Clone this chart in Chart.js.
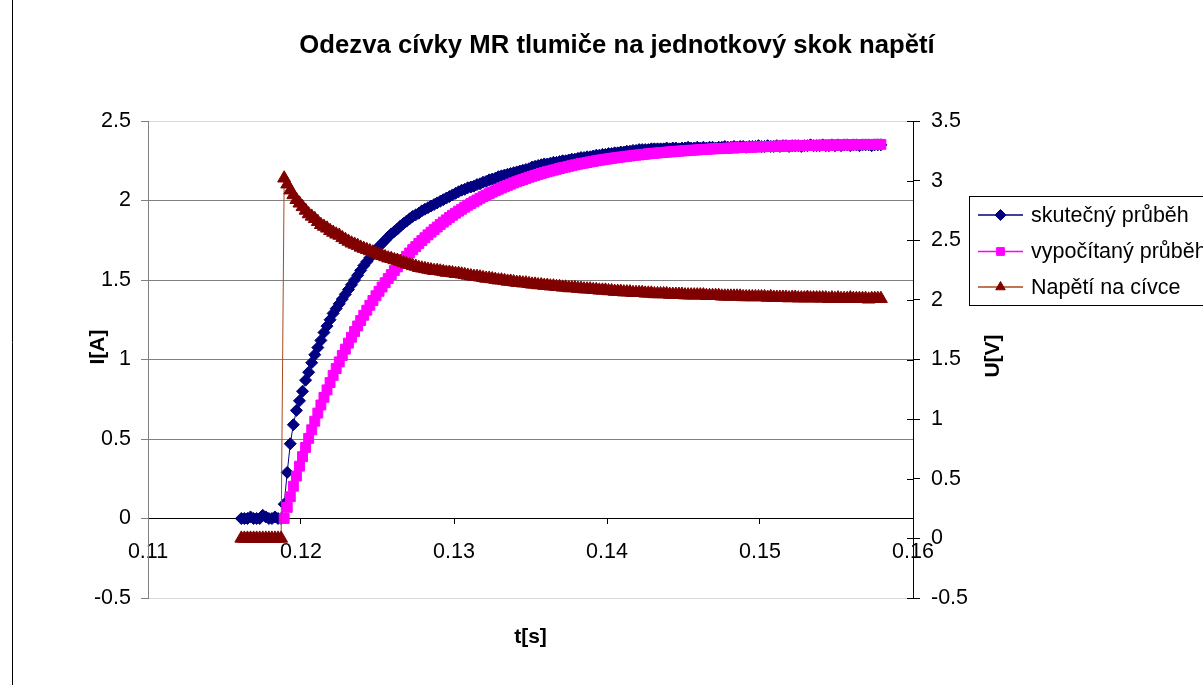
<!DOCTYPE html>
<html lang="cs">
<head>
<meta charset="utf-8">
<title>Odezva cívky MR tlumiče</title>
<script src="https://cdn.jsdelivr.net/npm/chart.js@4.4.1/dist/chart.umd.min.js"></script>
<style>
  html, body { margin: 0; padding: 0; background: #fff; }
  #wrap { position: relative; width: 1203px; height: 685px; overflow: hidden; }
</style>
</head>
<body>
<div id="wrap"><canvas id="chart" width="1203" height="685"></canvas></div>
<script>
// texty grafu
const titleText = 'Odezva cívky MR tlumiče na jednotkový skok napětí';
const xTitle = 't[s]';
const yTitle = 'I[A]';
const y2Title = 'U[V]';
const seriesNames = ['skutečný průběh', 'vypočítaný průběh', 'Napětí na cívce'];

// popisky os
const timeTicks = [0.11, 0.12, 0.13, 0.14, 0.15, 0.16];
const currentTicks = [-0.5, 0, 0.5, 1, 1.5, 2, 2.5];
const voltageTicks = [-0.5, 0, 0.5, 1, 1.5, 2, 2.5, 3, 3.5];

// časy vzorků [s]
const time = [
  0.1161, 0.1163, 0.1165, 0.1167, 0.1169, 0.1171, 0.1173, 0.1175, 0.1177, 0.1179,
  0.1181, 0.1183, 0.1185, 0.1187, 0.1189, 0.1191, 0.1193, 0.1195, 0.1197, 0.1199,
  0.1201, 0.1203, 0.1205, 0.1207, 0.1209, 0.1211, 0.1213, 0.1215, 0.1217, 0.1219,
  0.1221, 0.1223, 0.1225, 0.1227, 0.1229, 0.1231, 0.1233, 0.1235, 0.1237, 0.1239,
  0.1241, 0.1243, 0.1245, 0.1247, 0.1249, 0.1251, 0.1253, 0.1255, 0.1257, 0.1259,
  0.1261, 0.1263, 0.1265, 0.1267, 0.1269, 0.1271, 0.1273, 0.1275, 0.1277, 0.1279,
  0.1281, 0.1283, 0.1285, 0.1287, 0.1289, 0.1291, 0.1293, 0.1295, 0.1297, 0.1299,
  0.1301, 0.1303, 0.1305, 0.1307, 0.1309, 0.1311, 0.1313, 0.1315, 0.1317, 0.1319,
  0.1321, 0.1323, 0.1325, 0.1327, 0.1329, 0.1331, 0.1333, 0.1335, 0.1337, 0.1339,
  0.1341, 0.1343, 0.1345, 0.1347, 0.1349, 0.1351, 0.1353, 0.1355, 0.1357, 0.1359,
  0.1361, 0.1363, 0.1365, 0.1367, 0.1369, 0.1371, 0.1373, 0.1375, 0.1377, 0.1379,
  0.1381, 0.1383, 0.1385, 0.1387, 0.1389, 0.1391, 0.1393, 0.1395, 0.1397, 0.1399,
  0.1401, 0.1403, 0.1405, 0.1407, 0.1409, 0.1411, 0.1413, 0.1415, 0.1417, 0.1419,
  0.1421, 0.1423, 0.1425, 0.1427, 0.1429, 0.1431, 0.1433, 0.1435, 0.1437, 0.1439,
  0.1441, 0.1443, 0.1445, 0.1447, 0.1449, 0.1451, 0.1453, 0.1455, 0.1457, 0.1459,
  0.1461, 0.1463, 0.1465, 0.1467, 0.1469, 0.1471, 0.1473, 0.1475, 0.1477, 0.1479,
  0.1481, 0.1483, 0.1485, 0.1487, 0.1489, 0.1491, 0.1493, 0.1495, 0.1497, 0.1499,
  0.1501, 0.1503, 0.1505, 0.1507, 0.1509, 0.1511, 0.1513, 0.1515, 0.1517, 0.1519,
  0.1521, 0.1523, 0.1525, 0.1527, 0.1529, 0.1531, 0.1533, 0.1535, 0.1537, 0.1539,
  0.1541, 0.1543, 0.1545, 0.1547, 0.1549, 0.1551, 0.1553, 0.1555, 0.1557, 0.1559,
  0.1561, 0.1563, 0.1565, 0.1567, 0.1569, 0.1571, 0.1573, 0.1575, 0.1577, 0.1579
];

// skutečný průběh proudu [A]
const measuredCurrent = [
  0, 0, 0, 0.01, 0, 0, 0, 0.02, 0.01, 0,
  0, 0.01, 0, 0, 0.09, 0.29, 0.47, 0.59, 0.68, 0.74,
  0.80, 0.87, 0.92, 0.98, 1.03, 1.075, 1.12, 1.17, 1.21, 1.25,
  1.29, 1.32, 1.35, 1.38, 1.41, 1.44, 1.47, 1.50, 1.53, 1.56,
  1.59, 1.615, 1.64, 1.665, 1.69, 1.71, 1.73, 1.75, 1.77, 1.79,
  1.805, 1.82, 1.84, 1.855, 1.87, 1.885, 1.90, 1.91, 1.92, 1.935,
  1.945, 1.955, 1.965, 1.975, 1.985, 1.995, 2.005, 2.015, 2.025, 2.035,
  2.045, 2.055, 2.065, 2.07, 2.08, 2.085, 2.09, 2.10, 2.105, 2.115,
  2.12, 2.13, 2.135, 2.14, 2.15, 2.155, 2.16, 2.165, 2.17, 2.175,
  2.18, 2.185, 2.19, 2.195, 2.20, 2.21, 2.215, 2.22, 2.225, 2.23,
  2.23, 2.235, 2.24, 2.24, 2.245, 2.25, 2.25, 2.255, 2.26, 2.26,
  2.265, 2.27, 2.27, 2.275, 2.275, 2.28, 2.285, 2.285, 2.29, 2.29,
  2.295, 2.295, 2.30, 2.30, 2.305, 2.305, 2.31, 2.31, 2.315, 2.315,
  2.32, 2.32, 2.32, 2.32, 2.325, 2.325, 2.325, 2.325, 2.325, 2.33,
  2.325, 2.33, 2.33, 2.325, 2.33, 2.33, 2.335, 2.33, 2.33, 2.335,
  2.33, 2.335, 2.33, 2.335, 2.335, 2.33, 2.335, 2.335, 2.34, 2.335,
  2.335, 2.34, 2.335, 2.34, 2.34, 2.335, 2.34, 2.34, 2.34, 2.345,
  2.34, 2.34, 2.345, 2.34, 2.34, 2.345, 2.34, 2.345, 2.345, 2.34,
  2.345, 2.345, 2.345, 2.34, 2.345, 2.345, 2.35, 2.345, 2.345, 2.345,
  2.35, 2.345, 2.345, 2.35, 2.345, 2.35, 2.345, 2.35, 2.35, 2.345,
  2.35, 2.35, 2.345, 2.35, 2.35, 2.35, 2.345, 2.35, 2.35, 2.35
];

// vypočítaný průběh proudu [A] (začíná až se skokem)
const computedCurrent = [
  null, null, null, null, null, null, null, null, null, null,
  null, null, null, null, 0, 0.070, 0.137, 0.203, 0.267, 0.329,
  0.389, 0.447, 0.504, 0.558, 0.612, 0.663, 0.714, 0.762, 0.809, 0.855,
  0.900, 0.943, 0.985, 1.025, 1.065, 1.103, 1.140, 1.176, 1.211, 1.245,
  1.278, 1.310, 1.341, 1.371, 1.401, 1.429, 1.456, 1.483, 1.509, 1.534,
  1.559, 1.582, 1.605, 1.628, 1.649, 1.670, 1.691, 1.710, 1.730, 1.748,
  1.766, 1.784, 1.801, 1.817, 1.833, 1.849, 1.864, 1.878, 1.893, 1.907,
  1.920, 1.933, 1.945, 1.958, 1.970, 1.981, 1.992, 2.003, 2.014, 2.024,
  2.034, 2.043, 2.053, 2.062, 2.071, 2.079, 2.087, 2.095, 2.103, 2.111,
  2.118, 2.125, 2.132, 2.139, 2.146, 2.152, 2.158, 2.164, 2.170, 2.176,
  2.181, 2.186, 2.191, 2.196, 2.201, 2.206, 2.210, 2.215, 2.219, 2.224,
  2.228, 2.232, 2.235, 2.239, 2.243, 2.246, 2.250, 2.253, 2.256, 2.259,
  2.262, 2.265, 2.268, 2.270, 2.273, 2.275, 2.278, 2.280, 2.283, 2.285,
  2.287, 2.289, 2.291, 2.294, 2.296, 2.297, 2.299, 2.301, 2.302, 2.304,
  2.306, 2.307, 2.309, 2.310, 2.312, 2.313, 2.314, 2.316, 2.317, 2.318,
  2.320, 2.321, 2.322, 2.323, 2.325, 2.326, 2.326, 2.327, 2.328, 2.329,
  2.330, 2.331, 2.332, 2.333, 2.334, 2.335, 2.335, 2.336, 2.337, 2.337,
  2.338, 2.339, 2.339, 2.340, 2.341, 2.341, 2.342, 2.342, 2.343, 2.343,
  2.344, 2.344, 2.345, 2.345, 2.346, 2.346, 2.346, 2.347, 2.347, 2.347,
  2.348, 2.348, 2.348, 2.349, 2.349, 2.349, 2.350, 2.350, 2.350, 2.350,
  2.351, 2.351, 2.351, 2.352, 2.352, 2.352, 2.352, 2.353, 2.353, 2.353
];

// napětí na cívce [V]
const coilVoltage = [
  0, 0, 0, 0, 0, 0, 0, 0, 0, 0,
  0, 0, 0, 0, 3.02, 2.97, 2.92, 2.88, 2.84, 2.81,
  2.78, 2.75, 2.72, 2.70, 2.68, 2.655, 2.63, 2.615, 2.60, 2.58,
  2.565, 2.55, 2.54, 2.52, 2.505, 2.49, 2.475, 2.465, 2.455, 2.44,
  2.43, 2.42, 2.41, 2.40, 2.39, 2.38, 2.37, 2.36, 2.35, 2.345,
  2.335, 2.33, 2.32, 2.31, 2.30, 2.295, 2.285, 2.28, 2.27, 2.265,
  2.26, 2.255, 2.25, 2.245, 2.245, 2.24, 2.235, 2.23, 2.23, 2.225,
  2.22, 2.22, 2.215, 2.21, 2.205, 2.20, 2.195, 2.195, 2.19, 2.185,
  2.18, 2.18, 2.175, 2.17, 2.165, 2.165, 2.16, 2.155, 2.155, 2.15,
  2.145, 2.145, 2.14, 2.14, 2.135, 2.13, 2.13, 2.125, 2.125, 2.12,
  2.12, 2.115, 2.115, 2.11, 2.11, 2.105, 2.105, 2.10, 2.10, 2.10,
  2.095, 2.095, 2.09, 2.09, 2.09, 2.085, 2.085, 2.08, 2.08, 2.08,
  2.075, 2.075, 2.07, 2.07, 2.07, 2.065, 2.065, 2.065, 2.06, 2.06,
  2.06, 2.06, 2.055, 2.055, 2.055, 2.05, 2.05, 2.05, 2.05, 2.05,
  2.045, 2.045, 2.045, 2.045, 2.045, 2.04, 2.04, 2.04, 2.04, 2.04,
  2.04, 2.04, 2.035, 2.035, 2.035, 2.035, 2.035, 2.03, 2.03, 2.03,
  2.03, 2.03, 2.03, 2.03, 2.025, 2.025, 2.025, 2.025, 2.025, 2.025,
  2.025, 2.025, 2.02, 2.025, 2.02, 2.02, 2.02, 2.02, 2.02, 2.015,
  2.02, 2.02, 2.015, 2.015, 2.015, 2.02, 2.015, 2.015, 2.015, 2.015,
  2.015, 2.015, 2.01, 2.015, 2.01, 2.015, 2.01, 2.01, 2.01, 2.015,
  2.01, 2.01, 2.01, 2.01, 2.01, 2.005, 2.01, 2.01, 2.01, 2.01
];

const FONT = '"Liberation Sans", Arial, sans-serif';
Chart.defaults.font.family = FONT;
Chart.defaults.color = '#000';

function points(values) {
  return time.map((t, i) => ({ x: t, y: values[i] })).filter(p => p.y !== null);
}

// vzhled řad (Excel 2003 styl)
const seriesStyle = [
  { line: '#000080', marker: '#000080', pointStyle: 'rectRot', radius: 6 },
  { line: '#ff00ff', marker: '#ff00ff', pointStyle: 'rect', radius: 7 },
  { line: '#a8491c', marker: '#800000', pointStyle: 'triangle', radius: 7.5 }
];

function dataset(i, values, axis) {
  const s = seriesStyle[i];
  return {
    label: seriesNames[i],
    data: points(values),
    yAxisID: axis,
    showLine: true,
    borderColor: s.line,
    backgroundColor: s.marker,
    borderWidth: 1,
    pointStyle: s.pointStyle,
    pointRadius: s.radius,
    pointBorderWidth: 1,
    pointBackgroundColor: s.marker,
    pointBorderColor: s.marker,
    order: 3 - i  // poslední řada se kreslí navrch
  };
}

// titulek, popisy os, legenda a rámeček
const framePlugin = {
  id: 'frame',
  afterDraw(chart) {
    const ctx = chart.ctx;
    const area = chart.chartArea;
    const y2 = chart.scales.y2;
    ctx.save();

    ctx.strokeStyle = '#000';
    ctx.lineWidth = 1;
    ctx.beginPath();
    ctx.moveTo(12.5, 0);
    ctx.lineTo(12.5, 685);
    ctx.stroke();

    // vnitřní část značek pravé osy (křížové značky)
    ctx.beginPath();
    y2.ticks.forEach(t => {
      const py = Math.round(y2.getPixelForValue(t.value)) + 0.5;
      ctx.moveTo(area.right - 6, py);
      ctx.lineTo(area.right, py);
    });
    ctx.stroke();

    ctx.fillStyle = '#000';
    ctx.textAlign = 'center';
    ctx.textBaseline = 'middle';
    ctx.font = 'bold 25.7px ' + FONT;
    ctx.fillText(titleText, 617, 46);

    ctx.font = 'bold 21px ' + FONT;
    ctx.fillText(xTitle, (area.left + area.right) / 2, 637);
    ctx.save();
    ctx.translate(98, 347);
    ctx.rotate(-Math.PI / 2);
    ctx.fillText(yTitle, 0, 0);
    ctx.restore();
    ctx.save();
    ctx.translate(993, 356);
    ctx.rotate(-Math.PI / 2);
    ctx.fillText(y2Title, 0, 0);
    ctx.restore();

    // legenda
    ctx.strokeStyle = '#000';
    ctx.strokeRect(969.5, 196.5, 260, 109);
    const rows = [215, 251.5, 287];
    ctx.font = '21.5px ' + FONT;
    ctx.textAlign = 'left';
    seriesStyle.forEach((s, i) => {
      const y = rows[i];
      ctx.strokeStyle = s.line;
      ctx.lineWidth = 1.5;
      ctx.beginPath();
      ctx.moveTo(978, y);
      ctx.lineTo(1023, y);
      ctx.stroke();
      ctx.fillStyle = s.marker;
      ctx.strokeStyle = s.marker;
      ctx.lineWidth = 1;
      Chart.helpers.drawPoint(ctx, { pointStyle: s.pointStyle, radius: 5.5, rotation: 0, borderWidth: 1 }, 1000.5, y);
      ctx.fillStyle = '#000';
      ctx.fillText(seriesNames[i], 1031, y + 1);
    });
    ctx.restore();
  }
};

const tickFont = { size: 21.5, family: FONT };

new Chart(document.getElementById('chart').getContext('2d'), {
  type: 'scatter',
  data: {
    datasets: [
      dataset(0, measuredCurrent, 'y'),
      dataset(1, computedCurrent, 'y'),
      dataset(2, coilVoltage, 'y2')
    ]
  },
  options: {
    responsive: false,
    devicePixelRatio: 1,
    animation: false,
    events: [],
    layout: { padding: { top: 121, bottom: 87, left: 0, right: 0 } },
    scales: {
      x: {
        type: 'linear',
        position: { y: 0 },
        min: 0.11,
        max: 0.16,
        afterBuildTicks: s => { s.ticks = timeTicks.map(v => ({ value: v })); },
        grid: { drawOnChartArea: false, tickLength: 5, color: '#000' },
        border: { color: '#000' },
        ticks: { font: tickFont, color: '#000', padding: 16, maxRotation: 0, autoSkip: false, callback: v => String(v) }
      },
      y: {
        position: 'left',
        min: -0.5,
        max: 2.5,
        afterBuildTicks: s => { s.ticks = currentTicks.map(v => ({ value: v })); },
        afterFit: s => { s.width = 148; },
        grid: {
          color: c => (c.tick && (c.tick.value === 2.5 || c.tick.value === -0.5)) ? '#d9d9d9' : '#808080',
          tickColor: '#808080',
          tickLength: 7
        },
        border: { color: '#808080' },
        ticks: { font: tickFont, color: '#000', padding: 10, callback: v => String(v) }
      },
      y2: {
        position: 'right',
        min: -0.5,
        max: 3.5,
        afterBuildTicks: s => { s.ticks = voltageTicks.map(v => ({ value: v })); },
        afterFit: s => { s.width = 290; },
        grid: { drawOnChartArea: false, tickLength: 7, color: '#000' },
        border: { color: '#000' },
        ticks: { font: tickFont, color: '#000', padding: 11, callback: v => String(v) }
      }
    },
    plugins: {
      legend: { display: false },
      title: { display: false },
      tooltip: { enabled: false }
    }
  },
  plugins: [framePlugin]
});
</script>
</body>
</html>
